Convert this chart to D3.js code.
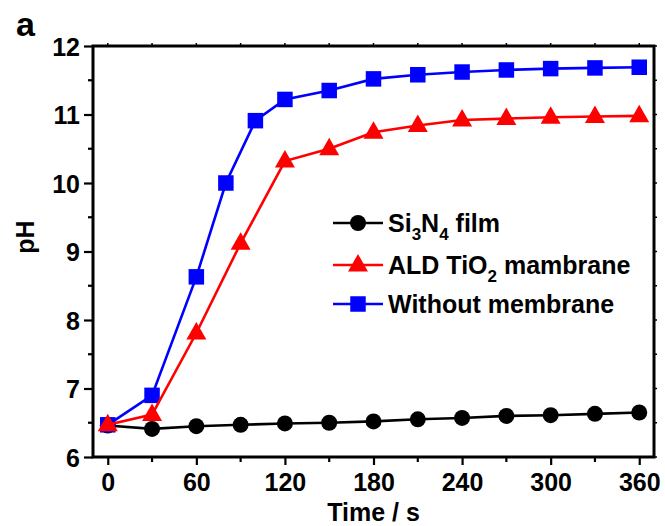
<!DOCTYPE html>
<html>
<head>
<meta charset="utf-8">
<script src="https://cdn.jsdelivr.net/npm/d3@7"></script>
<style>
  html, body { margin: 0; padding: 0; background: #fff; }
  svg { display: block; }
  text { font-family: "Liberation Sans", Arial, sans-serif; font-weight: bold; fill: #000; }
</style>
</head>
<body>
<svg id="chart" width="665" height="526"></svg>
<script>
// pH versus time for three configurations
const timeSi3N4 = [0, 30, 60, 90, 120, 150, 180, 210, 240, 270, 300, 330, 360];
const phSi3N4   = [6.46, 6.41, 6.45, 6.47, 6.49, 6.50, 6.52, 6.55, 6.57, 6.60, 6.61, 6.63, 6.65];

const timeTiO2 = [0, 30, 60, 90, 120, 150, 180, 210, 240, 270, 300, 330, 360];
const phTiO2   = [6.47, 6.62, 7.81, 9.12, 10.32, 10.50, 10.74, 10.84, 10.92, 10.94, 10.96, 10.97, 10.98];

const timeNone = [0, 30, 60, 80, 100, 120, 150, 180, 210, 240, 270, 300, 330, 360];
const phNone   = [6.47, 6.90, 8.63, 10.00, 10.91, 11.22, 11.35, 11.52, 11.58, 11.62, 11.65, 11.67, 11.68, 11.69];

const xMajorTicks = [0, 60, 120, 180, 240, 300, 360];
const xMinorTicks = [30, 90, 150, 210, 270, 330];
const yMajorTicks = [6, 7, 8, 9, 10, 11, 12];
const yMinorTicks = [6.5, 7.5, 8.5, 9.5, 10.5, 11.5];

const svg = d3.select("#chart");

const plotL = 93, plotR = 654, plotT = 46, plotB = 457;
const x = d3.scaleLinear().domain([-10, 370]).range([plotL, plotR]);
const y = d3.scaleLinear().domain([6, 12]).range([plotB, plotT]);

const series = [
  { name: "Si3N4", t: timeSi3N4, v: phSi3N4, color: "#000000", shape: "circle",
    label: [["Si", 0], ["3", 1], ["N", 0], ["4", 1], [" film", 0]] },
  { name: "TiO2", t: timeTiO2, v: phTiO2, color: "#ff0000", shape: "triangle",
    label: [["ALD TiO", 0], ["2", 1], [" mambrane", 0]] },
  { name: "None", t: timeNone, v: phNone, color: "#0000ff", shape: "square",
    label: [["Without membrane", 0]] }
];

// marker shapes
const symCircle = d3.symbol().type(d3.symbolCircle).size(Math.PI * 8 * 8);
const symSquare = d3.symbol().type(d3.symbolSquare).size(15.5 * 15.5);
const triPath = "M0,-11L10,6.5L-10,6.5Z";
function markerPath(shape) {
  if (shape === "circle") return symCircle();
  if (shape === "square") return symSquare();
  return triPath;
}

const fontFam = "'Liberation Sans', Arial, sans-serif";

// bottom axis
const bottomAxis = d3.axisBottom(x).tickValues(xMajorTicks).tickFormat(d3.format("d"))
  .tickSize(8).tickPadding(7).tickSizeOuter(0);
const gB = svg.append("g").attr("transform", `translate(0,${plotB})`).call(bottomAxis);
gB.select(".domain").remove();
gB.selectAll(".tick line").attr("stroke", "#000").attr("stroke-width", 2.2);
gB.selectAll(".tick text").attr("font-size", 25).attr("dy", "0.74em")
  .style("font-family", fontFam).style("font-weight", "bold");
svg.append("g").selectAll("line").data(xMinorTicks).join("line")
  .attr("x1", d => x(d)).attr("x2", d => x(d)).attr("y1", plotB).attr("y2", plotB + 5)
  .attr("stroke", "#000").attr("stroke-width", 2.2);

// left axis
const leftAxis = d3.axisLeft(y).tickValues(yMajorTicks).tickFormat(d3.format("d"))
  .tickSize(9).tickPadding(4).tickSizeOuter(0);
const gL = svg.append("g").attr("transform", `translate(${plotL},0)`).call(leftAxis);
gL.select(".domain").remove();
gL.selectAll(".tick line").attr("stroke", "#000").attr("stroke-width", 2.2);
gL.selectAll(".tick text").attr("font-size", 25).attr("dy", "0.36em")
  .style("font-family", fontFam).style("font-weight", "bold");
svg.append("g").selectAll("line").data(yMinorTicks).join("line")
  .attr("x1", plotL).attr("x2", plotL - 5).attr("y1", d => y(d)).attr("y2", d => y(d))
  .attr("stroke", "#000").attr("stroke-width", 2.2);

// small outward ticks on the mirrored top and right edges
svg.append("g").selectAll("line").data(xMajorTicks.concat(xMinorTicks)).join("line")
  .attr("x1", d => x(d)).attr("x2", d => x(d)).attr("y1", plotT).attr("y2", plotT - 3)
  .attr("stroke", "#000").attr("stroke-width", 1.5);
svg.append("g").selectAll("line").data(yMajorTicks.concat(yMinorTicks)).join("line")
  .attr("x1", plotR).attr("x2", plotR + 3).attr("y1", d => y(d)).attr("y2", d => y(d))
  .attr("stroke", "#000").attr("stroke-width", 1.5);

// frame
svg.append("rect").attr("x", plotL).attr("y", plotT)
  .attr("width", plotR - plotL).attr("height", plotB - plotT)
  .attr("fill", "none").attr("stroke", "#000").attr("stroke-width", 3);

// data lines and markers
const line = d3.line().x(d => x(d[0])).y(d => y(d[1]));
const drawOrder = [series[0], series[2], series[1]];
drawOrder.forEach(s => {
  const pts = s.t.map((t, i) => [t, s.v[i]]);
  const g = svg.append("g");
  g.append("path").datum(pts).attr("d", line)
    .attr("fill", "none").attr("stroke", s.color).attr("stroke-width", 2.6);
  g.selectAll("path.m").data(pts).join("path").attr("class", "m")
    .attr("d", markerPath(s.shape))
    .attr("transform", d => `translate(${x(d[0])},${y(d[1])})`)
    .attr("fill", s.color);
});

// legend
const legX = 333, legRows = [223, 265, 304];
series.forEach((s, i) => {
  const g = svg.append("g").attr("transform", `translate(${legX},${legRows[i]})`);
  g.append("line").attr("x1", 0).attr("x2", 50).attr("y1", 0).attr("y2", 0)
    .attr("stroke", s.color).attr("stroke-width", 2.6);
  g.append("path").attr("d", markerPath(s.shape)).attr("transform", "translate(25,0)").attr("fill", s.color);
  const t = g.append("text").attr("x", 55).attr("y", 9).attr("font-size", 25);
  let lowered = false;
  s.label.forEach(([str, sub]) => {
    const ts = t.append("tspan").text(str);
    if (sub) {
      ts.attr("font-size", 17).attr("dy", lowered ? 0 : 8);
      lowered = true;
    } else {
      if (lowered) ts.attr("dy", -8);
      lowered = false;
    }
  });
});

// axis titles and panel letter
svg.append("text").attr("x", (plotL + plotR) / 2).attr("y", 521)
  .attr("text-anchor", "middle").attr("font-size", 25).text("Time / s");
svg.append("text").attr("transform", "translate(34,237) rotate(-90)")
  .attr("text-anchor", "middle").attr("font-size", 25).text("pH");
svg.append("text").attr("x", 16).attr("y", 36).attr("font-size", 34).text("a");
</script>
</body>
</html>
